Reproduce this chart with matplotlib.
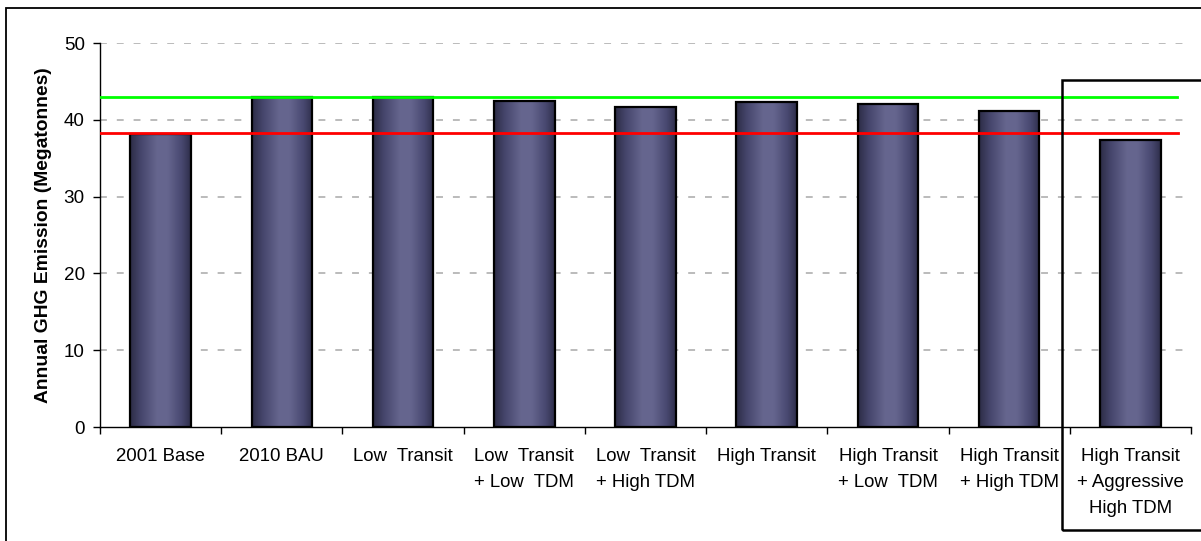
import numpy as np
import matplotlib
matplotlib.use("Agg")
import matplotlib.pyplot as plt
from matplotlib.patches import Rectangle
from matplotlib.colors import LinearSegmentedColormap

plt.rcParams['font.family'] = ['Liberation Sans', 'DejaVu Sans']

scenarios = [
    "2001 Base",
    "2010 BAU",
    "Low  Transit",
    "Low  Transit\n+ Low  TDM",
    "Low  Transit\n+ High TDM",
    "High Transit",
    "High Transit\n+ Low  TDM",
    "High Transit\n+ High TDM",
    "High Transit\n+ Aggressive\nHigh TDM",
]
emissions = [38.2, 43.0, 43.0, 42.5, 41.7, 42.3, 42.1, 41.2, 37.4]
base_2001 = 38.3
bau_2010 = 43.0
yticks = [0, 10, 20, 30, 40, 50]

W, H = 1201, 541
fig = plt.figure(figsize=(W / 100, H / 100), dpi=100)
fig.patch.set_facecolor("white")

ax = fig.add_axes([100 / W, 1 - 427 / H, 1091 / W, (427 - 43) / H])
ax.set_xlim(-0.5, len(scenarios) - 0.5)
ax.set_ylim(0, 50)

# dashed horizontal gridlines
for v in yticks[1:]:
    ax.axhline(v, xmin=0, xmax=0.993, color="#a8a8a8", lw=1.1,
               ls=(0, (4.5, 6.5)), zorder=0)

# cylinder-shaded bars
shade = LinearSegmentedColormap.from_list(
    "shade",
    [(0.0, "#2c2c46"), (0.18, "#46466c"), (0.45, "#66668f"),
     (0.62, "#65658e"), (0.85, "#484870"), (1.0, "#2e2e4a")])
grad = np.linspace(0, 1, 256).reshape(1, -1)
width = 0.5
for i, v in enumerate(emissions):
    x0 = i - width / 2
    rect = Rectangle((x0, 0), width, v, facecolor="none",
                     edgecolor="black", lw=1.6, zorder=3)
    im = ax.imshow(grad, cmap=shade, aspect="auto",
                   extent=[x0, x0 + width, 0, v], zorder=2,
                   interpolation="bicubic")
    ax.add_patch(rect)
    im.set_clip_path(rect)

# reference levels
ax.axhline(bau_2010, xmin=0, xmax=0.987, color="#00ff00", lw=2, zorder=4)
ax.axhline(base_2001, xmin=0, xmax=0.988, color="#ff0000", lw=2, zorder=4)

ax.set_xlim(-0.5, len(scenarios) - 0.5)
ax.set_ylim(0, 50)

for s in ["top", "right"]:
    ax.spines[s].set_visible(False)
for s in ["left", "bottom"]:
    ax.spines[s].set_color("black")
    ax.spines[s].set_linewidth(1.0)

ax.set_yticks(yticks)
ax.set_yticklabels([str(t) for t in yticks], fontsize=13.6)
ax.tick_params(axis="y", direction="out", length=5, width=1, pad=6)

ax.set_xticks(np.arange(len(scenarios)))
ax.set_xticklabels(scenarios, fontsize=13.4, linespacing=1.7,
                   va="top", ha="center")
ax.tick_params(axis="x", which="major", length=0, pad=15)
ax.set_xticks(np.arange(len(scenarios) + 1) - 0.5, minor=True)
ax.tick_params(axis="x", which="minor", direction="out", length=5, width=1)

ax.set_ylabel("Annual GHG Emission (Megatonnes)", fontsize=13.9,
              fontweight="bold", labelpad=8)

# chart frame and highlight box in pixel space
frame = Rectangle((6 / W, -0.1), 1.2, 1 - 8 / H + 0.1,
                  transform=fig.transFigure, fill=False,
                  edgecolor="black", lw=1.3, zorder=10)
fig.add_artist(frame)
box = Rectangle((1062 / W, 1 - 530 / H), 0.2, (530 - 80) / H,
                transform=fig.transFigure, fill=False,
                edgecolor="black", lw=1.8, zorder=10)
fig.add_artist(box)

fig.savefig("out.png", dpi=100, facecolor="white")
